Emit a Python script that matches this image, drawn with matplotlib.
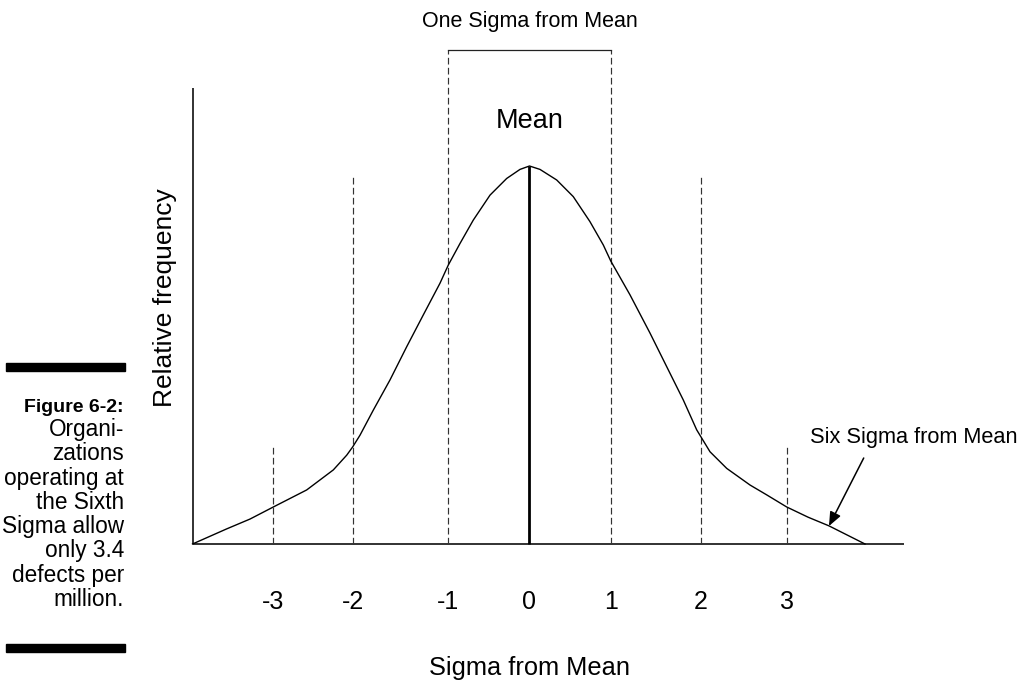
import matplotlib
matplotlib.use('Agg')
import matplotlib.pyplot as plt
from matplotlib.patches import Rectangle

plt.rcParams['font.family'] = ['Liberation Sans', 'DejaVu Sans']
plt.rcParams['lines.scale_dashes'] = False

# Données (x en sigma, y en fréquence relative, pic = 1)
sigma_labels = ['-3', '-2', '-1', '0', '1', '2', '3']
sigma_pos = [-3.16, -2.17, -1.0, 0.0, 1.0, 2.11, 3.17]
guide_top = [0.265, 0.976, 1.307, 1.0, 1.307, 0.976, 0.265]

curve_x = [-4.150, -3.729, -3.442, -3.163, -2.744, -2.416, -2.251, -2.177,
           -2.087, -1.924, -1.718, -1.512, -1.308, -1.102, -1.000, -0.856,
           -0.692, -0.486, -0.281, -0.117, 0.000, 0.129, 0.335, 0.539,
           0.744, 0.909, 1.000, 1.238, 1.484, 1.690, 1.894, 2.059, 2.223,
           2.429, 2.716, 2.921, 3.167, 3.430, 3.688, 3.910, 4.132]
curve_y = [0.000, 0.040, 0.066, 0.097, 0.143, 0.196, 0.235, 0.257,
           0.288, 0.354, 0.434, 0.522, 0.606, 0.690, 0.738, 0.795,
           0.857, 0.923, 0.967, 0.991, 1.000, 0.991, 0.963, 0.919,
           0.853, 0.791, 0.749, 0.659, 0.558, 0.469, 0.381, 0.302, 0.244,
           0.200, 0.156, 0.130, 0.098, 0.071, 0.048, 0.024, 0.000]

caption = ['Organi-', 'zations', 'operating at', 'the Sixth', 'Sigma allow',
           'only 3.4', 'defects per', 'million.']

# bornes des axes dessinés
x_left, x_right, y_top = -4.150, 4.612, 1.206

fig = plt.figure(figsize=(10.22, 6.84), dpi=100)
ax = fig.add_axes([0, 0, 1, 1])
ax.set_xlim(-6.5209, 6.0653)
ax.set_ylim(-0.37037, 1.43915)
ax.axis('off')

# axes
ax.plot([x_left, x_left], [0, y_top], color='#222222', lw=1.3, solid_capstyle='butt')
ax.plot([x_left, x_right], [0, 0], color='#222222', lw=1.3, solid_capstyle='butt')

# lignes verticales
for pos, top in zip(sigma_pos, guide_top):
    if pos == 0:
        ax.plot([pos, pos], [0, top], color='black', lw=2.0, solid_capstyle='butt')
    else:
        ax.plot([pos, pos], [0, top], color='#333333', lw=0.85, dashes=(4.8, 2.4))

# crochet "One Sigma"
ax.plot([sigma_pos[2], sigma_pos[4]], [guide_top[2], guide_top[4]], color='#222222', lw=0.9)

# courbe
ax.plot(curve_x, curve_y, color='black', lw=1.0, solid_joinstyle='round')

# étiquettes
for pos, lab in zip(sigma_pos, sigma_labels):
    ax.text(pos, -0.172, lab, ha='center', va='baseline', fontsize=18)

ax.text(0, 1.3677, 'One Sigma from Mean', ha='center', va='baseline', fontsize=15.5)
ax.text(0, 1.0997, 'Mean', ha='center', va='baseline', fontsize=19.5)
ax.text(0, -0.3466, 'Sigma from Mean', ha='center', va='baseline', fontsize=18.3)
ax.text(-4.489, 0.6508, 'Relative frequency', ha='center', va='center',
        rotation=90, fontsize=19)
ax.text(3.454, 0.268, 'Six Sigma from Mean', ha='left', va='baseline', fontsize=15.7)
ax.annotate('', xy=(3.688, 0.0476), xytext=(4.116, 0.2275),
            arrowprops=dict(arrowstyle='-|>,head_length=0.6,head_width=0.25',
                            color='black', lw=1.1, shrinkA=0, shrinkB=0,
                            mutation_scale=14))

# légende de la figure à gauche
W, H = 1022, 684
fig.add_artist(Rectangle((6 / W, 1 - 371 / H), 119 / W, 8 / H,
                         transform=fig.transFigure, color='black'))
fig.add_artist(Rectangle((6 / W, 1 - 652 / H), 119 / W, 8 / H,
                         transform=fig.transFigure, color='black'))
fig.text(124 / W, 1 - 411.7 / H, 'Figure 6-2:', ha='right', va='baseline',
         fontsize=14, fontweight='bold')
for i, line in enumerate(caption):
    fig.text(124 / W, 1 - (436.0 + 24.3 * i) / H, line, ha='right',
             va='baseline', fontsize=16.3)

fig.savefig('out.png', dpi=100)
